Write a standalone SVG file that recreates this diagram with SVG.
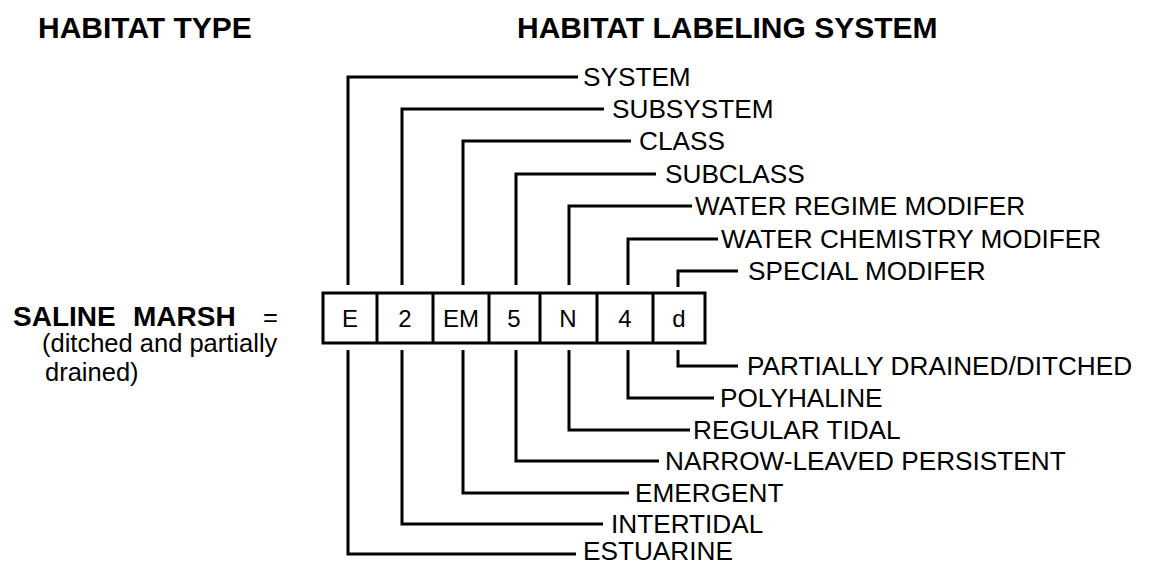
<svg xmlns="http://www.w3.org/2000/svg" width="1153" height="566" viewBox="0 0 1153 566">
<style>
.t{font-family:"Liberation Sans",Arial,sans-serif;font-size:26.2px;fill:#000}
.s{font-family:"Liberation Sans",Arial,sans-serif;font-size:25.5px;fill:#000}
.title{font-family:"Liberation Sans",Arial,sans-serif;font-size:30px;font-weight:bold;fill:#000}
.hb{font-family:"Liberation Sans",Arial,sans-serif;font-size:28px;font-weight:bold;fill:#000}
.box{fill:#fff;stroke:#000;stroke-width:3}
.bl{font-family:"Liberation Sans",Arial,sans-serif;font-size:24px;fill:#000;text-anchor:middle}
.c{fill:none;stroke:#000;stroke-width:3;stroke-linejoin:miter}
</style>
<rect width="1153" height="566" fill="#fff"/>
<g id="titles">
<text class="title" x="38" y="38">HABITAT TYPE</text>
<text class="title" x="517" y="38">HABITAT LABELING SYSTEM</text>
</g>
<g id="habitat">
<text class="hb" x="13" y="326">SALINE</text>
<text class="hb" x="133" y="326">MARSH</text>
<text class="s" x="263" y="326">=</text>
<text class="s" x="42" y="352">(ditched and partially</text>
<text class="s" x="45" y="381">drained)</text>
</g>
<g id="code">
<rect class="box" x="323" y="293" width="382" height="50"/>
<path class="c" d="M377 293V343M433 293V343M489 293V343M540 293V343M597 293V343M653 293V343"/>
<text class="bl" x="350" y="327">E</text>
<text class="bl" x="405" y="327">2</text>
<text class="bl" x="461" y="327">EM</text>
<text class="bl" x="514" y="327">5</text>
<text class="bl" x="568" y="327">N</text>
<text class="bl" x="625" y="327">4</text>
<text class="bl" x="679" y="327">d</text>
</g>
<g id="connectors">
<path class="c" d="M348 285V77H578"/>
<path class="c" d="M402 285V109H604"/>
<path class="c" d="M463 285V141H631"/>
<path class="c" d="M516 285V174H656"/>
<path class="c" d="M569 285V206H692"/>
<path class="c" d="M628 285V239H718"/>
<path class="c" d="M678 287V271H738"/>
<path class="c" d="M678 350V366H738"/>
<path class="c" d="M628 350V398H714"/>
<path class="c" d="M569 350V430H690"/>
<path class="c" d="M516 350V461H659"/>
<path class="c" d="M463 350V493H629"/>
<path class="c" d="M402 350V524H603"/>
<path class="c" d="M348 350V554H576"/>
</g>
<g id="labels-top">
<text class="t" x="583" y="86">SYSTEM</text>
<text class="t" x="612" y="118">SUBSYSTEM</text>
<text class="t" x="639" y="150">CLASS</text>
<text class="t" x="665" y="183">SUBCLASS</text>
<text class="t" x="695" y="215">WATER REGIME MODIFER</text>
<text class="t" x="721" y="248">WATER CHEMISTRY MODIFER</text>
<text class="t" x="748" y="280">SPECIAL MODIFER</text>
</g>
<g id="labels-bottom">
<text class="t" x="747" y="375">PARTIALLY DRAINED/DITCHED</text>
<text class="t" x="720" y="407">POLYHALINE</text>
<text class="t" x="693" y="439">REGULAR TIDAL</text>
<text class="t" x="665" y="470">NARROW-LEAVED PERSISTENT</text>
<text class="t" x="635" y="502">EMERGENT</text>
<text class="t" x="611" y="533">INTERTIDAL</text>
<text class="t" x="583" y="560">ESTUARINE</text>
</g>
</svg>
